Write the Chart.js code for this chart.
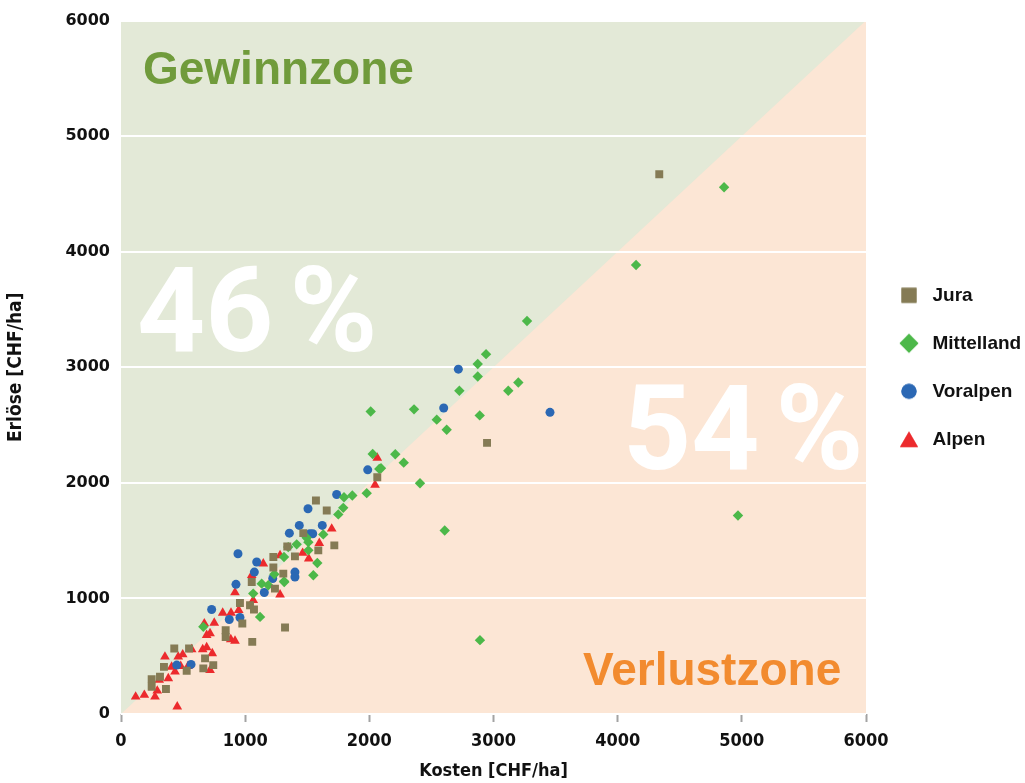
<!DOCTYPE html>
<html>
<head>
<meta charset="utf-8">
<title>Kosten und Erlöse</title>
<script src="https://cdn.jsdelivr.net/npm/chart.js@4.4.1/dist/chart.umd.min.js"></script>
<style>
    html, body { margin: 0; padding: 0; background: #ffffff; }
    #wrap { width: 1025px; height: 783px; }
</style>
</head>
<body>
<div id="wrap"><canvas id="chart" width="1025" height="783"></canvas></div>
<script>
// Data: [Kosten, Erlöse] in CHF/ha
const jura = [
    [1227,1267],[1307,1215],[1240,1085],[1053,1142],[958,961],[1039,941],[1071,904],[977,783],
    [843,725],[843,667],[1057,624],[1321,748],[429,567],[548,567],[677,481],[743,423],[663,395],
    [346,408],[529,374],[247,302],[247,236],[314,322],[362,216],[1570,1847],[1657,1761],[1468,1565],
    [1339,1450],[1718,1459],[1401,1364],[1589,1416],[1227,1358],[2064,2049],[2948,2346],[4335,4670]
];
const mittelland = [
    [1133,1128],[1186,1114],[1313,1148],[1065,1042],[1120,840],[663,754],[2027,2250],[2080,2121],
    [1979,1911],[1796,1876],[1863,1891],[1790,1784],[1750,1727],[1629,1554],[1495,1525],[1415,1468],
    [1509,1487],[1347,1444],[1509,1416],[1313,1358],[1581,1306],[1549,1200],[1235,1209],[1315,1142],
    [2940,3114],[2873,3028],[2873,2921],[2725,2797],[3200,2869],[3119,2797],[2011,2618],[2360,2636],
    [2543,2547],[2623,2460],[2889,2584],[2209,2247],[2277,2175],[2094,2126],[2408,1997],[2607,1588],
    [4857,4558],[4148,3885],[3270,3401],[4969,1718],[2891,639]
];
const voralpen = [
    [1093,1315],[1074,1228],[926,1122],[1154,1051],[1222,1172],[730,904],[872,818],[958,835],
    [564,429],[449,423],[1987,2113],[1737,1899],[1506,1776],[1436,1632],[1621,1632],[1356,1565],
    [1522,1560],[1544,1560],[942,1387],[1401,1228],[1401,1185],[2717,2984],[2599,2648],[3455,2610]
];
const alpen = [
    [1146,1301],[1053,1200],[918,1051],[1281,1033],[1065,984],[819,875],[886,875],[948,898],
    [671,783],[751,788],[690,682],[717,697],[884,645],[918,633],[569,559],[658,559],[690,576],
    [735,524],[717,380],[354,495],[461,495],[497,515],[408,408],[481,414],[540,414],[435,365],
    [381,308],[308,294],[292,201],[274,149],[188,164],[118,149],[453,63],[2064,2216],[2046,1983],
    [1697,1603],[1597,1479],[1463,1393],[1512,1344],[1281,1373]
];

const seriesNames = ['Jura', 'Mittelland', 'Voralpen', 'Alpen'];
const axisTicks = [0, 1000, 2000, 3000, 4000, 5000, 6000];

// Zone labels: text, anchor [Kosten, Erlöse]
const zoneLabels = [
    ['Gewinnzone', [177, 5448]],
    ['46 %', [129, 3143]],
    ['54 %', [4043, 2124]],
    ['Verlustzone', [3721, 250]]
];

const COLORS = {
    jura: '#857b55',
    mittelland: '#4cb849',
    voralpen: '#2b68b4',
    alpen: '#ec2a2d',
    gainBg: '#e3e9d7',
    lossBg: '#fce6d5',
    gainText: '#709b3b',
    lossText: '#f28b2f'
};

const narrowFont = "'DejaVu Sans Condensed', 'Liberation Sans Narrow', sans-serif";

function toPoints(arr) {
    return arr.map(p => ({ x: p[0], y: p[1] }));
}

// Legend symbols drawn with the library's own point helper, each with its own size
function legendSymbol(style, radius, color, dy) {
    const c = document.createElement('canvas');
    c.width = 24;
    c.height = 24;
    const g = c.getContext('2d');
    g.fillStyle = color;
    g.strokeStyle = color;
    Chart.helpers.drawPoint(g, { pointStyle: style, radius: radius, rotation: 0, borderWidth: 0 }, 12, 12 + (dy || 0));
    g.fill();
    return c;
}

// Background zones and zone labels
const zonesPlugin = {
    id: 'zones',
    beforeDraw(chart) {
        const { ctx, chartArea: a, scales: { x, y } } = chart;
        ctx.save();
        ctx.fillStyle = COLORS.lossBg;
        ctx.fillRect(a.left, a.top, a.width, a.height);
        ctx.fillStyle = COLORS.gainBg;
        ctx.beginPath();
        ctx.moveTo(x.getPixelForValue(0), y.getPixelForValue(0));
        ctx.lineTo(x.getPixelForValue(0), y.getPixelForValue(6000));
        ctx.lineTo(x.getPixelForValue(6000), y.getPixelForValue(6000));
        ctx.closePath();
        ctx.fill();
        ctx.restore();
    },
    beforeDatasetsDraw(chart) {
        const { ctx, scales: { x, y } } = chart;
        const wordFont = "bold 46px 'Liberation Sans', Arial, sans-serif";
        const bigFont = "bold 119px Roboto, 'Liberation Sans', sans-serif";
        const colors = [COLORS.gainText, '#ffffff', '#ffffff', COLORS.lossText];
        ctx.save();
        ctx.textAlign = 'left';
        ctx.textBaseline = 'alphabetic';
        zoneLabels.forEach((lbl, i) => {
            const px = x.getPixelForValue(lbl[1][0]);
            const py = y.getPixelForValue(lbl[1][1]);
            ctx.fillStyle = colors[i];
            if (lbl[0].indexOf('%') >= 0) {
                // number and percent sign with a small gap, like the original
                const parts = lbl[0].split(' ');
                ctx.font = bigFont;
                ctx.fillText(parts[0], px, py);
                const w = ctx.measureText(parts[0]).width;
                ctx.fillText(parts[1], px + w + 16, py);
            } else {
                ctx.font = wordFont;
                ctx.fillText(lbl[0], px, py);
            }
        });
        ctx.restore();
    }
};

const ctx = document.getElementById('chart');

const legendImages = [
    legendSymbol('rect', 10.6, COLORS.jura, 0),
    legendSymbol('rectRot', 9.4, COLORS.mittelland, 0),
    legendSymbol('circle', 7.6, COLORS.voralpen, 0),
    legendSymbol('triangle', 10.4, COLORS.alpen, 2.6)
];

new Chart(ctx, {
    type: 'scatter',
    data: {
        datasets: [
            {
                label: seriesNames[0],
                data: toPoints(jura),
                pointStyle: 'rect',
                pointRadius: 5.6,
                backgroundColor: COLORS.jura,
                borderColor: COLORS.jura,
                borderWidth: 0
            },
            {
                label: seriesNames[1],
                data: toPoints(mittelland),
                pointStyle: 'rectRot',
                pointRadius: 5.2,
                backgroundColor: COLORS.mittelland,
                borderColor: COLORS.mittelland,
                borderWidth: 0
            },
            {
                label: seriesNames[2],
                data: toPoints(voralpen),
                pointStyle: 'circle',
                pointRadius: 4.5,
                backgroundColor: COLORS.voralpen,
                borderColor: COLORS.voralpen,
                borderWidth: 0
            },
            {
                label: seriesNames[3],
                data: toPoints(alpen),
                pointStyle: 'triangle',
                pointRadius: 5.6,
                backgroundColor: COLORS.alpen,
                borderColor: COLORS.alpen,
                borderWidth: 0
            }
        ]
    },
    options: {
        responsive: false,
        animation: false,
        events: [],
        layout: {
            padding: { top: 19, left: 0, right: 0, bottom: 0 }
        },
        plugins: {
            tooltip: { enabled: false },
            legend: {
                position: 'right',
                align: 'center',
                fullSize: false,
                maxWidth: 159,
                labels: {
                    usePointStyle: true,
                    pointStyleWidth: 28,
                    padding: 29,
                    color: '#111111',
                    font: { family: "'Liberation Sans', Arial, sans-serif", size: 19, weight: 'bold' },
                    generateLabels(chart) {
                        const items = Chart.defaults.plugins.legend.labels.generateLabels(chart);
                        items.forEach((item, i) => {
                            item.pointStyle = legendImages[i];
                            item.lineWidth = 0;
                        });
                        return items;
                    }
                }
            }
        },
        scales: {
            x: {
                type: 'linear',
                min: 0,
                max: 6000,
                afterFit(scale) { scale.height = 69; },
                afterBuildTicks(scale) { scale.ticks = axisTicks.map(v => ({ value: v })); },
                border: { display: false },
                grid: {
                    display: true,
                    drawOnChartArea: false,
                    drawTicks: true,
                    tickLength: 8,
                    tickWidth: 2,
                    tickColor: '#a3a3a3'
                },
                ticks: {
                    padding: 9,
                    color: '#111111',
                    callback: v => String(v),
                    font: { family: narrowFont, size: 18, weight: 'bold' }
                },
                title: {
                    display: true,
                    text: 'Kosten [CHF/ha]',
                    color: '#111111',
                    padding: { top: 0, bottom: 1 },
                    font: { family: narrowFont, size: 18, weight: 'bold' }
                }
            },
            y: {
                type: 'linear',
                min: 0,
                max: 6000,
                afterFit(scale) { scale.width = 121; },
                afterBuildTicks(scale) { scale.ticks = axisTicks.map(v => ({ value: v })); },
                border: { display: false },
                grid: {
                    color: '#ffffff',
                    lineWidth: 2,
                    drawTicks: false
                },
                ticks: {
                    padding: 11,
                    color: '#111111',
                    callback: v => String(v),
                    font: { family: "'DejaVu Sans', sans-serif", size: 16, weight: 'bold' }
                },
                title: {
                    display: true,
                    text: 'Erlöse [CHF/ha]',
                    color: '#111111',
                    padding: { top: 5, bottom: 0 },
                    font: { family: narrowFont, size: 19, weight: 'bold' }
                }
            }
        }
    },
    plugins: [zonesPlugin]
});
</script>
</body>
</html>
